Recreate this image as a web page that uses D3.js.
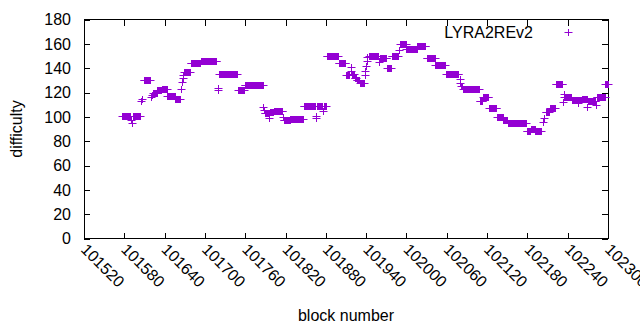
<!DOCTYPE html>
<html>
<head>
<meta charset="utf-8">
<script src="https://cdn.jsdelivr.net/npm/d3@7"></script>
<style>
  html, body { margin: 0; padding: 0; background: #fff; }
  svg { display: block; }
  text { font-family: "Liberation Sans", Arial, sans-serif; fill: #000; }
</style>
</head>
<body>
<svg id="chart" width="640" height="330"></svg>
<script>
// ---- data: runs of consecutive blocks sharing one difficulty value ----
const runStart = [101577,101590,101591,101593,101605,101606,101609,101620,101621,101623,101629,101636,101644,101656,101665,101666,101667,101668,101669,101679,101694,101719,101720,101721,101749,101759,101787,101788,101789,101796,101797,101803,101816,101817,101827,101847,101865,101866,101867,101876,101877,101881,101899,101910,101917,101918,101919,101923,101926,101931,101938,101939,101940,101941,101942,101944,101959,101960,101971,101978,101989,101991,102000,102016,102030,102043,102059,102079,102080,102081,102084,102109,102114,102123,102135,102144,102151,102179,102185,102192,102203,102205,102207,102213,102222,102233,102234,102235,102246,102255,102256,102261,102269,102270,102282,102283,102296];
const runEnd   = [101588,101590,101591,101603,101605,101606,101618,101620,101621,101628,101635,101643,101655,101663,101665,101666,101667,101668,101678,101693,101717,101719,101720,101748,101758,101786,101787,101788,101795,101796,101802,101815,101816,101826,101846,101864,101865,101866,101875,101876,101880,101898,101909,101915,101917,101918,101922,101925,101930,101937,101938,101939,101940,101941,101942,101958,101959,101970,101977,101987,101989,101999,102015,102028,102042,102057,102077,102079,102080,102083,102108,102113,102122,102134,102143,102150,102178,102184,102191,102200,102203,102205,102212,102221,102232,102233,102234,102245,102254,102255,102260,102268,102269,102281,102282,102295,102300];
const runValue = [101,97,95,101,113,115,130,116,118,120,122,123,117,115,123,129,132,134,137,144,146,122,124,135,122,126,108,106,103,99,104,105,100,97,98,109,99,101,109,105,109,150,144,134,141,138,135,132,130,128,134,138,142,146,149,150,145,148,140,150,155,160,156,158,148,143,135,131,128,125,123,113,116,107,100,97,95,88,90,88,96,99,104,107,127,112,119,116,114,111,114,115,108,113,110,116,127];

const xTicks = [101520,101580,101640,101700,101760,101820,101880,101940,102000,102060,102120,102180,102240,102300];
const yTicks = [0,20,40,60,80,100,120,140,160,180];
const seriesName = "LYRA2REv2";
const xTitle = "block number";
const yTitle = "difficulty";

// expand runs into one point per block
const points = [];
runStart.forEach((s, i) => {
  for (let b = s; b <= runEnd[i]; b++) points.push({block: b, value: runValue[i]});
});

const pL = 84, pR = 608, pT = 19.5, pB = 238.5;
const color = "#9400d3";
const fontSize = 16;

const svg = d3.select("#chart");
const x = d3.scaleLinear().domain([101520, 102300]).range([pL, pR]);
const y = d3.scaleLinear().domain([0, 180]).range([pB, pT]);

// axes (ticks pointing inward), plus mirrored ticks
const gx = svg.append("g").attr("transform", `translate(0,${pB})`)
  .call(d3.axisBottom(x).tickValues(xTicks).tickSizeInner(-6).tickSizeOuter(0).tickFormat(""));
const gxTop = svg.append("g").attr("transform", `translate(0,${pT})`)
  .call(d3.axisTop(x).tickValues(xTicks).tickSizeInner(-6).tickSizeOuter(0).tickFormat(""));
const gy = svg.append("g").attr("transform", `translate(${pL},0)`)
  .call(d3.axisLeft(y).tickValues(yTicks).tickSizeInner(-6).tickSizeOuter(0).tickFormat(""));
const gyR = svg.append("g").attr("transform", `translate(${pR},0)`)
  .call(d3.axisRight(y).tickValues(yTicks).tickSizeInner(-6).tickSizeOuter(0).tickFormat(""));
[gx, gxTop, gy, gyR].forEach(g => {
  g.select(".domain").remove();
  g.selectAll("line").attr("stroke", "#000").attr("stroke-width", 1).attr("shape-rendering", "crispEdges");
});

// y tick labels
svg.append("g").selectAll("text").data(yTicks).join("text")
  .attr("x", pL - 13).attr("y", d => y(d)).attr("dy", "0.36em")
  .attr("text-anchor", "end").attr("font-size", fontSize).text(d => d);

// x tick labels rotated
svg.append("g").selectAll("text").data(xTicks).join("text")
  .attr("transform", d => `translate(${x(d) - 4},${pB + 12}) rotate(45)`)
  .attr("text-anchor", "start").attr("font-size", fontSize).text(d => d);

// border box
svg.append("rect").attr("x", pL).attr("y", pT)
  .attr("width", pR - pL).attr("height", pB - pT)
  .attr("fill", "none").attr("stroke", "#000").attr("stroke-width", 1)
  .attr("shape-rendering", "crispEdges");

// axis titles
svg.append("text").attr("x", (pL + pR) / 2).attr("y", 321)
  .attr("text-anchor", "middle").attr("font-size", fontSize).text(xTitle);
svg.append("text").attr("transform", `translate(22,${(pT + pB) / 2}) rotate(-90)`)
  .attr("text-anchor", "middle").attr("font-size", fontSize).text(yTitle);

// plus markers
const plus = (cx, cy) => `M${cx - 4},${cy}H${cx + 4}M${cx},${cy - 3.5}V${cy + 3.5}`;
svg.append("path")
  .attr("d", points.map(p => plus(Math.round(x(p.block)) + 0.5, Math.round(y(p.value)) + 0.5)).join(""))
  .attr("fill", "none").attr("stroke", color).attr("stroke-width", 1);

// legend
svg.append("text").attr("x", 533).attr("y", 32).attr("dy", "0.36em")
  .attr("text-anchor", "end").attr("font-size", fontSize).text(seriesName);
svg.append("path").attr("d", plus(568.5, 32.5))
  .attr("fill", "none").attr("stroke", color).attr("stroke-width", 1);
</script>
</body>
</html>
